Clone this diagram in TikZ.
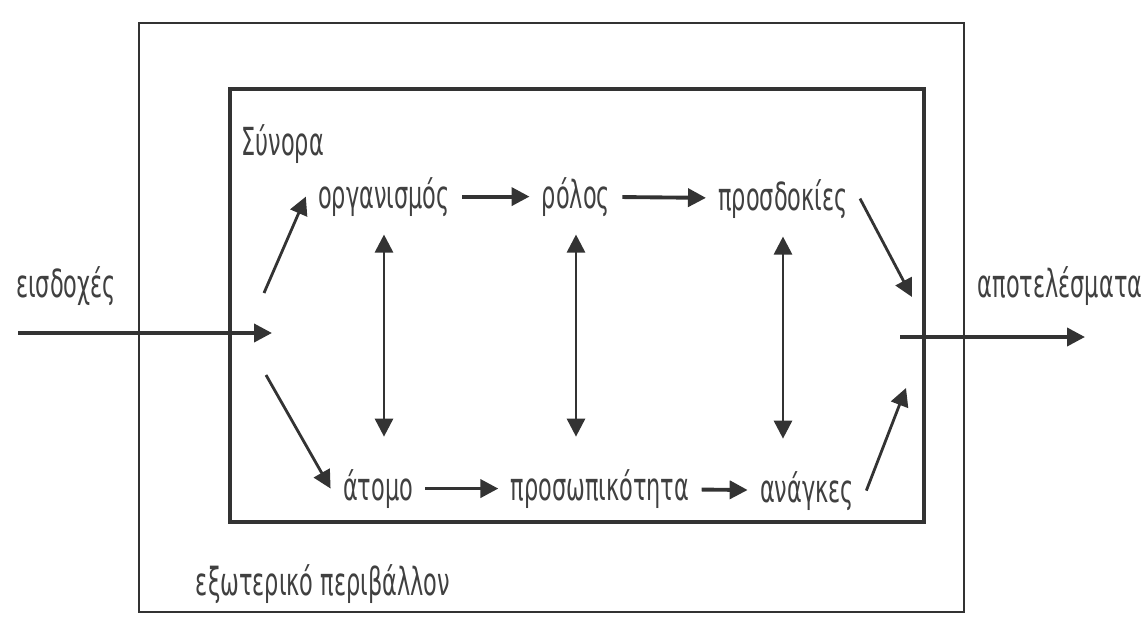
\documentclass[tikz,border=0pt]{standalone}
\usepackage{fontspec}
\setmainfont{DejaVu Sans}[FakeStretch=0.58]
\usetikzlibrary{arrows.meta}

\definecolor{ink}{HTML}{333333}
\definecolor{txt}{HTML}{404040}

\begin{document}
\begin{tikzpicture}[x=0.1mm, y=-0.1mm,
    word/.style={anchor=base, text=txt, font=\fontsize{11}{13}\selectfont},
    arr/.style={draw=ink, line width=0.8pt, -{Triangle[length=1.8mm, width=1.8mm]}},
    both/.style={draw=ink, line width=0.8pt, {Triangle[length=1.8mm, width=1.8mm]}-{Triangle[length=1.8mm, width=1.8mm]}},
    frame/.style={draw=ink}]
    \useasboundingbox (0,0) rectangle (1147,617);

    % the two frames
    \draw[frame, line width=0.8pt] (139,23) rectangle (964,612);
    \draw[frame, line width=1pt] (230,89) rectangle (924,522);

    % labels
    \node[word, anchor=base west] (border) at (229,155) {Σύνορα};
    \node[word] (env) at (323,595) {εξωτερικό περιβάλλον};
    \node[word] (input) at (66,297) {εισδοχές};
    \node[word] (output) at (1060,298) {αποτελέσματα};

    \node[word] (org) at (384,208) {οργανισμός};
    \node[word] (role) at (576,208) {ρόλος};
    \node[word] (expect) at (783,210) {προσδοκίες};
    \node[word] (indiv) at (378,500) {άτομο};
    \node[word] (person) at (600,500) {προσωπικότητα};
    \node[word] (needs) at (807,502) {ανάγκες};

    \coordinate (in) at (18,333);
    \coordinate (split) at (272,333);
    \coordinate (splitup) at (264,293);
    \coordinate (splitdown) at (266,375);
    \coordinate (joinup) at (912,297);
    \coordinate (joindown) at (906,388);
    \coordinate (join) at (900,337);
    \coordinate (out) at (1085,337);

    \draw[arr, line width=1.1pt] (in) -- (split);
    \draw[arr] (splitup) -- (org.west);
    \draw[arr] (splitdown) -- (indiv.west);

    \draw[arr, line width=1.1pt] (org) -- (role);
    \draw[arr, line width=1.1pt] (role) -- (expect);
    \draw[arr, line width=1.1pt] (indiv) -- (person);
    \draw[arr, line width=1.1pt] (person) -- (needs);

    \draw[both, shorten <=0.6mm, shorten >=2mm] (org.south) -- (org.south |- indiv.north);
    \draw[both, shorten <=0.6mm, shorten >=2mm] (role.south) -- (role.south |- person.north);
    \draw[both, shorten <=0.6mm, shorten >=2mm] (expect.south) -- (expect.south |- needs.north);

    \draw[arr] (expect.east) -- (joinup);
    \draw[arr] (needs.east) -- (joindown);
    \draw[arr, line width=1.1pt] (join) -- (out);
\end{tikzpicture}
\end{document}
